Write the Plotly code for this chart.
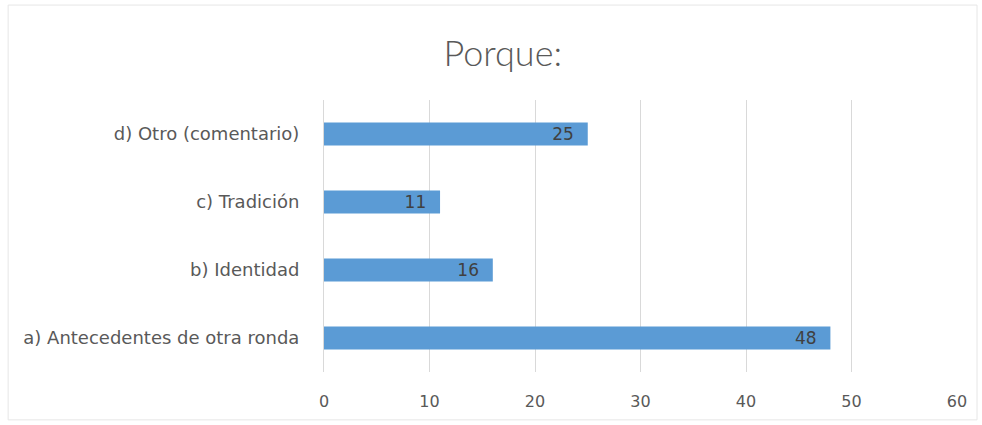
import plotly.graph_objects as go

categories = ["a) Antecedentes de otra ronda", "b) Identidad", "c) Tradición", "d) Otro (comentario)"]
values = [48, 16, 11, 25]
tick_vals = [0, 10, 20, 30, 40, 50, 60]

BAR = "#5B9BD5"
TXT = "#595959"
BODY = "'DejaVu Sans', sans-serif"
HEAD = "Lato, 'Open Sans', sans-serif"

fig = go.Figure(
    go.Bar(
        y=categories,
        x=values,
        orientation="h",
        marker=dict(color=BAR, line=dict(width=0)),
        width=0.34,
        # trailing spaces keep the value label off the bar's end
        text=[f"{v}  " for v in values],
        textposition="inside",
        insidetextanchor="end",
        textangle=0,
        constraintext="none",
        textfont=dict(family=BODY, size=17, color="#404040"),
        cliponaxis=False,
    )
)

fig.update_layout(
    width=982,
    height=425,
    margin=dict(l=324, r=25, t=100, b=53),
    paper_bgcolor="white",
    plot_bgcolor="white",
    showlegend=False,
    title=dict(
        text="Porque:",
        x=0.512,
        xref="container",
        xanchor="center",
        y=0.875,
        yref="container",
        yanchor="middle",
        font=dict(family=HEAD, size=36, color=TXT, weight=300),
    ),
    xaxis=dict(
        range=[0, 60],
        tickvals=tick_vals,
        showgrid=True,
        gridcolor="#D9D9D9",
        gridwidth=1,
        zeroline=False,
        showline=False,
        ticks="",
        tickfont=dict(family=BODY, size=16, color=TXT),
        ticklabelstandoff=18,
        fixedrange=True,
    ),
    yaxis=dict(
        categoryorder="array",
        categoryarray=categories,
        showgrid=False,
        zeroline=False,
        showline=True,
        linecolor="#D9D9D9",
        linewidth=1,
        ticks="",
        tickfont=dict(family=BODY, size=18, color=TXT),
        ticklabelstandoff=20,
        fixedrange=True,
    ),
    shapes=[
        dict(
            type="rect",
            xref="paper",
            yref="paper",
            x0=-0.499,
            x1=1.0316,
            y0=-0.176,
            y1=1.349,
            line=dict(color="#E6E6E6", width=1),
            fillcolor="rgba(0,0,0,0)",
            layer="below",
        )
    ],
)

fig.write_html("out.html")
